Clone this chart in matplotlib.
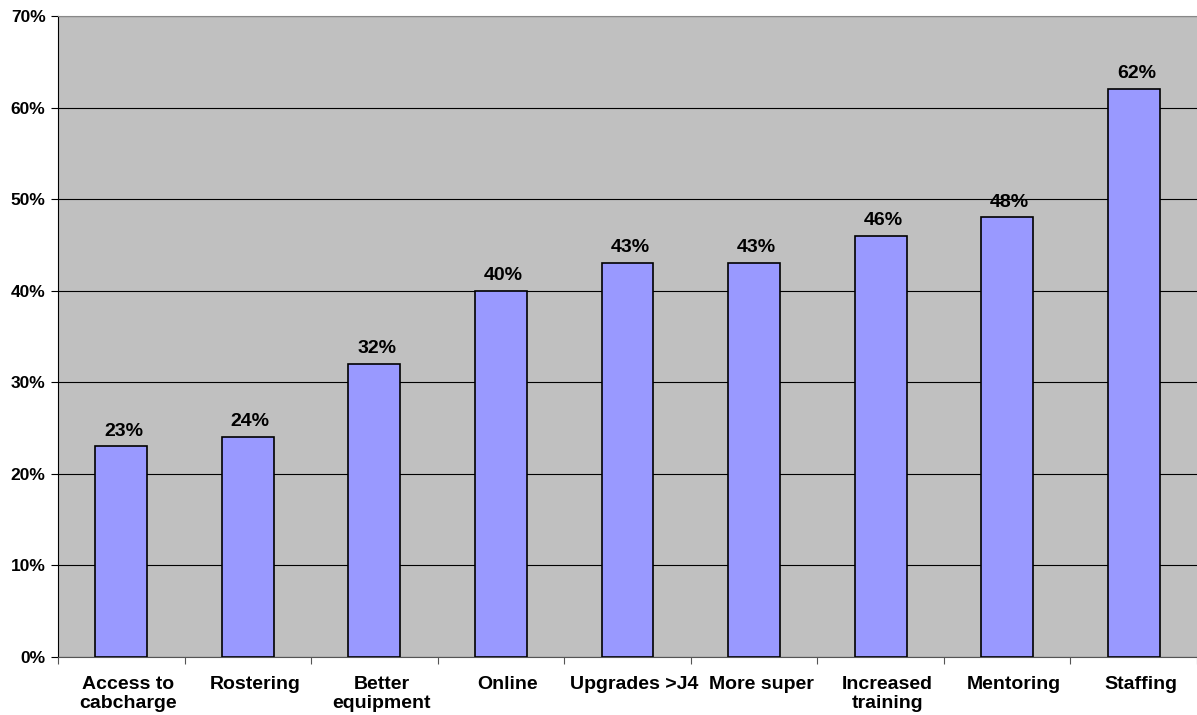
import matplotlib.pyplot as plt
import matplotlib.transforms as mtransforms
import numpy as np

plt.rcParams['font.family'] = ['Liberation Sans', 'DejaVu Sans']
plt.rcParams['font.weight'] = 'bold'

categories = ['Access to\ncabcharge', 'Rostering', 'Better\nequipment', 'Online',
              'Upgrades >J4', 'More super', 'Increased\ntraining', 'Mentoring', 'Staffing']
values = [23, 24, 32, 40, 43, 43, 46, 48, 62]
value_labels = ['23%', '24%', '32%', '40%', '43%', '43%', '46%', '48%', '62%']
y_ticks = [0, 10, 20, 30, 40, 50, 60, 70]
y_tick_labels = ['0%', '10%', '20%', '30%', '40%', '50%', '60%', '70%']

fig = plt.figure(figsize=(11.97, 7.15), dpi=100)
ax = fig.add_axes([58 / 1197, 58 / 715, 1 - 58 / 1197, (657 - 16) / 715])
ax.set_facecolor('#C0C0C0')

x = np.arange(len(categories))
bars = ax.bar(x, values, width=0.41, color='#9999FF', edgecolor='black', linewidth=1.2, zorder=3)
for b, lab in zip(bars, value_labels):
    ax.text(b.get_x() + b.get_width() / 2 + 0.02, b.get_height() + 0.75, lab,
            ha='center', va='bottom', fontsize=14, fontweight='bold', zorder=4)

ax.set_xlim(-0.5, len(categories) - 0.5)
ax.set_ylim(0, 70)
ax.set_yticks(y_ticks)
ax.set_yticklabels(y_tick_labels, fontsize=12.5, fontweight='bold')
ax.yaxis.grid(True, color='black', linewidth=0.8, zorder=1)
ax.set_axisbelow(True)

ax.set_xticks(x)
ax.set_xticklabels(categories, fontsize=14, fontweight='bold', va='top', linespacing=1.15)
ax.tick_params(axis='x', length=0, pad=14)
# Excel puts the labels a bit right of centre
shift = mtransforms.ScaledTranslation(7 / 100, 0, fig.dpi_scale_trans)
for t in ax.get_xticklabels():
    t.set_transform(t.get_transform() + shift)
# ticks at category boundaries
ax.set_xticks(np.arange(len(categories) + 1) - 0.5, minor=True)
ax.tick_params(axis='x', which='minor', length=5, width=0.8, color='#555555')
ax.tick_params(axis='y', length=5, width=0.8, pad=4)

ax.spines['right'].set_visible(False)
ax.spines['top'].set_color('#888888')
ax.spines['left'].set_color('black')
ax.spines['bottom'].set_color('#555555')

fig.savefig('out.png', dpi=100)
